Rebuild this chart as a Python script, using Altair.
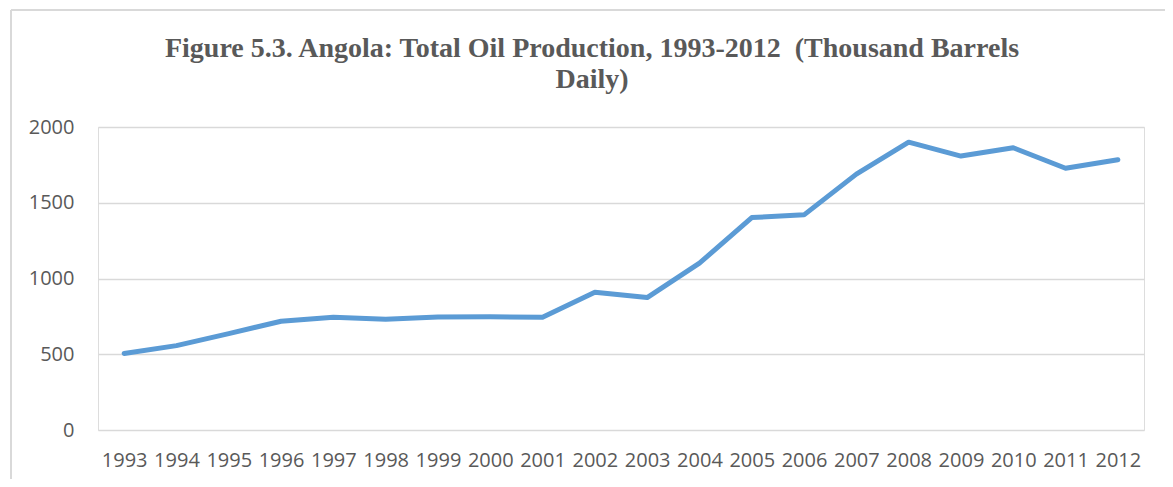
import altair as alt
import pandas as pd

years = [str(y) for y in range(1993, 2013)]
production = [505, 557, 636, 718, 744, 731, 746, 748, 744, 909,
              874, 1101, 1402, 1420, 1689, 1900, 1808, 1863, 1728, 1784]

df = pd.DataFrame({"year": years, "value": production})

label_font = "Open Sans"
grey = "#595959"

line = alt.Chart(df).mark_line(
    color="#5B9BD5", strokeWidth=5, strokeCap="round", strokeJoin="round"
).encode(
    x=alt.X("year:O", scale=alt.Scale(type="point", padding=0.5),
            axis=alt.Axis(title=None, labelAngle=0, ticks=False, domain=False,
                          labelFont=label_font, labelFontSize=20, labelColor=grey,
                          labelPadding=20, labelBaseline="top")),
    y=alt.Y("value:Q", scale=alt.Scale(domain=[0, 2000], nice=False),
            axis=alt.Axis(title=None, values=[0, 500, 1000, 1500, 2000], format="d",
                          ticks=False, domain=False, gridColor="#d9d9d9",
                          gridWidth=1.3, labelFont=label_font, labelFontSize=20,
                          labelColor=grey, labelPadding=24)),
)

left_border = alt.Chart(df).mark_rule(color="#d9d9d9", strokeWidth=1.5).encode(
    x=alt.value(-87), y=alt.value(-117), y2=alt.value(360)
)
top_border = alt.Chart(df).mark_rule(color="#d9d9d9", strokeWidth=1.5).encode(
    x=alt.value(-87), x2=alt.value(1090), y=alt.value(-117)
)

chart = alt.layer(left_border, top_border, line).properties(
    width=1046,
    height=303,
    autosize=alt.AutoSizeParams(type="none"),
    padding={"left": 90, "top": 119, "right": 21, "bottom": 49},
    title=alt.TitleParams(
        text=["Figure 5.3. Angola: Total Oil Production, 1993-2012\u00a0 (Thousand Barrels",
              "Daily)"],
        font="Liberation Serif", fontSize=28, fontWeight="bold", color=grey,
        lineHeight=31, anchor="middle", frame="group", baseline="alphabetic",
        dx=-29, dy=107, offset=0,
    ),
).configure_view(stroke=None).configure(background="white")

chart.save("out.html", embed_options={"renderer": "svg", "actions": False})
